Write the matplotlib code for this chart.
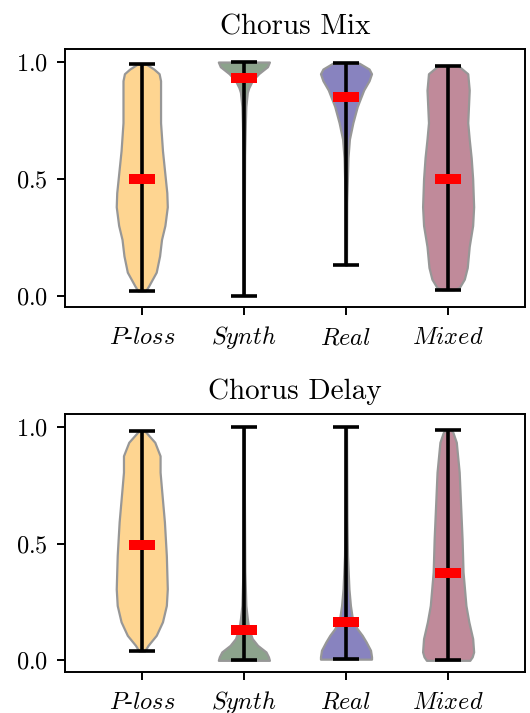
import matplotlib
matplotlib.use("Agg")
import matplotlib.pyplot as plt

plt.rcParams['font.family'] = 'serif'
plt.rcParams['font.serif'] = ['cmr10']
plt.rcParams['mathtext.fontset'] = 'cm'
plt.rcParams['axes.formatter.use_mathtext'] = True

labels = [r'$\mathit{P}$-$\mathit{loss}$', r'$\mathit{Synth}$', r'$\mathit{Real}$', r'$\mathit{Mixed}$']
colors = ['#fed591', '#8ca38c', '#8883bf', '#c08a9a']
titles = ['Chorus Mix', 'Chorus Delay']

# density profiles: (y values, relative width)
mix_coords = [
    [0.02, 0.04, 0.10, 0.17, 0.24, 0.30, 0.38, 0.44, 0.50, 0.62, 0.74, 0.85, 0.92, 0.95, 0.97, 0.99],
    [0.0, 0.3, 0.6, 0.74, 0.81, 0.87, 0.89, 0.92, 0.95, 0.98, 1.0],
    [0.13, 0.4, 0.59, 0.67, 0.74, 0.81, 0.88, 0.92, 0.95, 0.97, 0.995],
    [0.025, 0.035, 0.07, 0.12, 0.21, 0.30, 0.38, 0.50, 0.59, 0.67, 0.74, 0.88, 0.95, 0.985],
]
mix_vals = [
    [8, 14, 30, 37, 41, 48, 53, 52, 49, 43, 39, 39, 39, 36, 25, 10],
    [0.5, 0.8, 1.5, 3, 4, 7, 10, 17, 30, 48, 52],
    [1, 1.5, 4, 7, 14, 23, 36, 47, 52, 47, 27],
    [12, 23, 33, 39, 43, 50, 52, 50, 47, 43, 40, 43, 40, 20],
]
mix_means = [0.50, 0.93, 0.85, 0.50]

delay_coords = [
    [0.04, 0.064, 0.107, 0.165, 0.235, 0.306, 0.449, 0.593, 0.734, 0.806, 0.876, 0.934, 0.976, 0.983],
    [0.0, 0.015, 0.036, 0.064, 0.093, 0.135, 0.178, 0.235, 0.38, 0.7, 1.0],
    [0.005, 0.015, 0.043, 0.079, 0.107, 0.135, 0.178, 0.235, 0.306, 0.449, 0.6, 0.998],
    [0.0, 0.015, 0.036, 0.093, 0.165, 0.235, 0.379, 0.52, 0.662, 0.806, 0.934, 0.976, 0.986],
]
delay_vals = [
    [6, 13, 30, 43, 51, 53, 51, 47, 41, 38, 38, 27, 9, 5],
    [52, 50, 45, 28, 17, 10, 7, 4, 2, 1, 0.5],
    [52, 52, 50, 41, 33, 23, 13, 9, 6, 3, 2, 1],
    [45, 50, 53, 51, 43, 37, 31, 29, 26, 23, 17, 10, 6],
]
delay_means = [0.496, 0.128, 0.164, 0.373]

positions = [1, 2, 3, 4]


def draw(ax, coords, vals, means, title):
    stats = []
    for c, v, m in zip(coords, vals, means):
        stats.append({'coords': c, 'vals': v, 'mean': m, 'median': m,
                      'min': c[0], 'max': c[-1]})
    parts = ax.violin(stats, positions=positions, widths=0.5, showextrema=True)
    for body, col in zip(parts['bodies'], colors):
        body.set_facecolor(col)
        body.set_edgecolor('#979797')
        body.set_linewidth(1.6)
        body.set_alpha(1)
    for key in ['cbars', 'cmins', 'cmaxes']:
        parts[key].set_color('black')
        parts[key].set_linewidth(2.6)
    ax.hlines(means, [p - 0.125 for p in positions], [p + 0.125 for p in positions],
              colors='red', linewidth=7.2, capstyle='butt', zorder=5)
    ax.set_xticks(positions)
    ax.set_xticklabels(labels)
    ax.set_yticks([0.0, 0.5, 1.0])
    ax.set_xlim(0.25, 4.75)
    ax.set_ylim(-0.05, 1.055)
    ax.set_title(title, fontsize=21, pad=10.5)
    ax.tick_params(labelsize=17.5, width=1.4, length=6.1, pad=6.1)
    # keep the italic labels on one baseline
    ax.tick_params(axis='x', pad=20.5)
    for lab in ax.get_xticklabels():
        lab.set_verticalalignment('baseline')
    for s in ax.spines.values():
        s.set_linewidth(1.4)


fig, axes = plt.subplots(2, 1, figsize=(5.3, 7.13), dpi=100)
fig.subplots_adjust(left=0.123, right=0.99, top=0.931, bottom=0.0575, hspace=0.414)
draw(axes[0], mix_coords, mix_vals, mix_means, titles[0])
draw(axes[1], delay_coords, delay_vals, delay_means, titles[1])
fig.savefig("out.png", dpi=100)
